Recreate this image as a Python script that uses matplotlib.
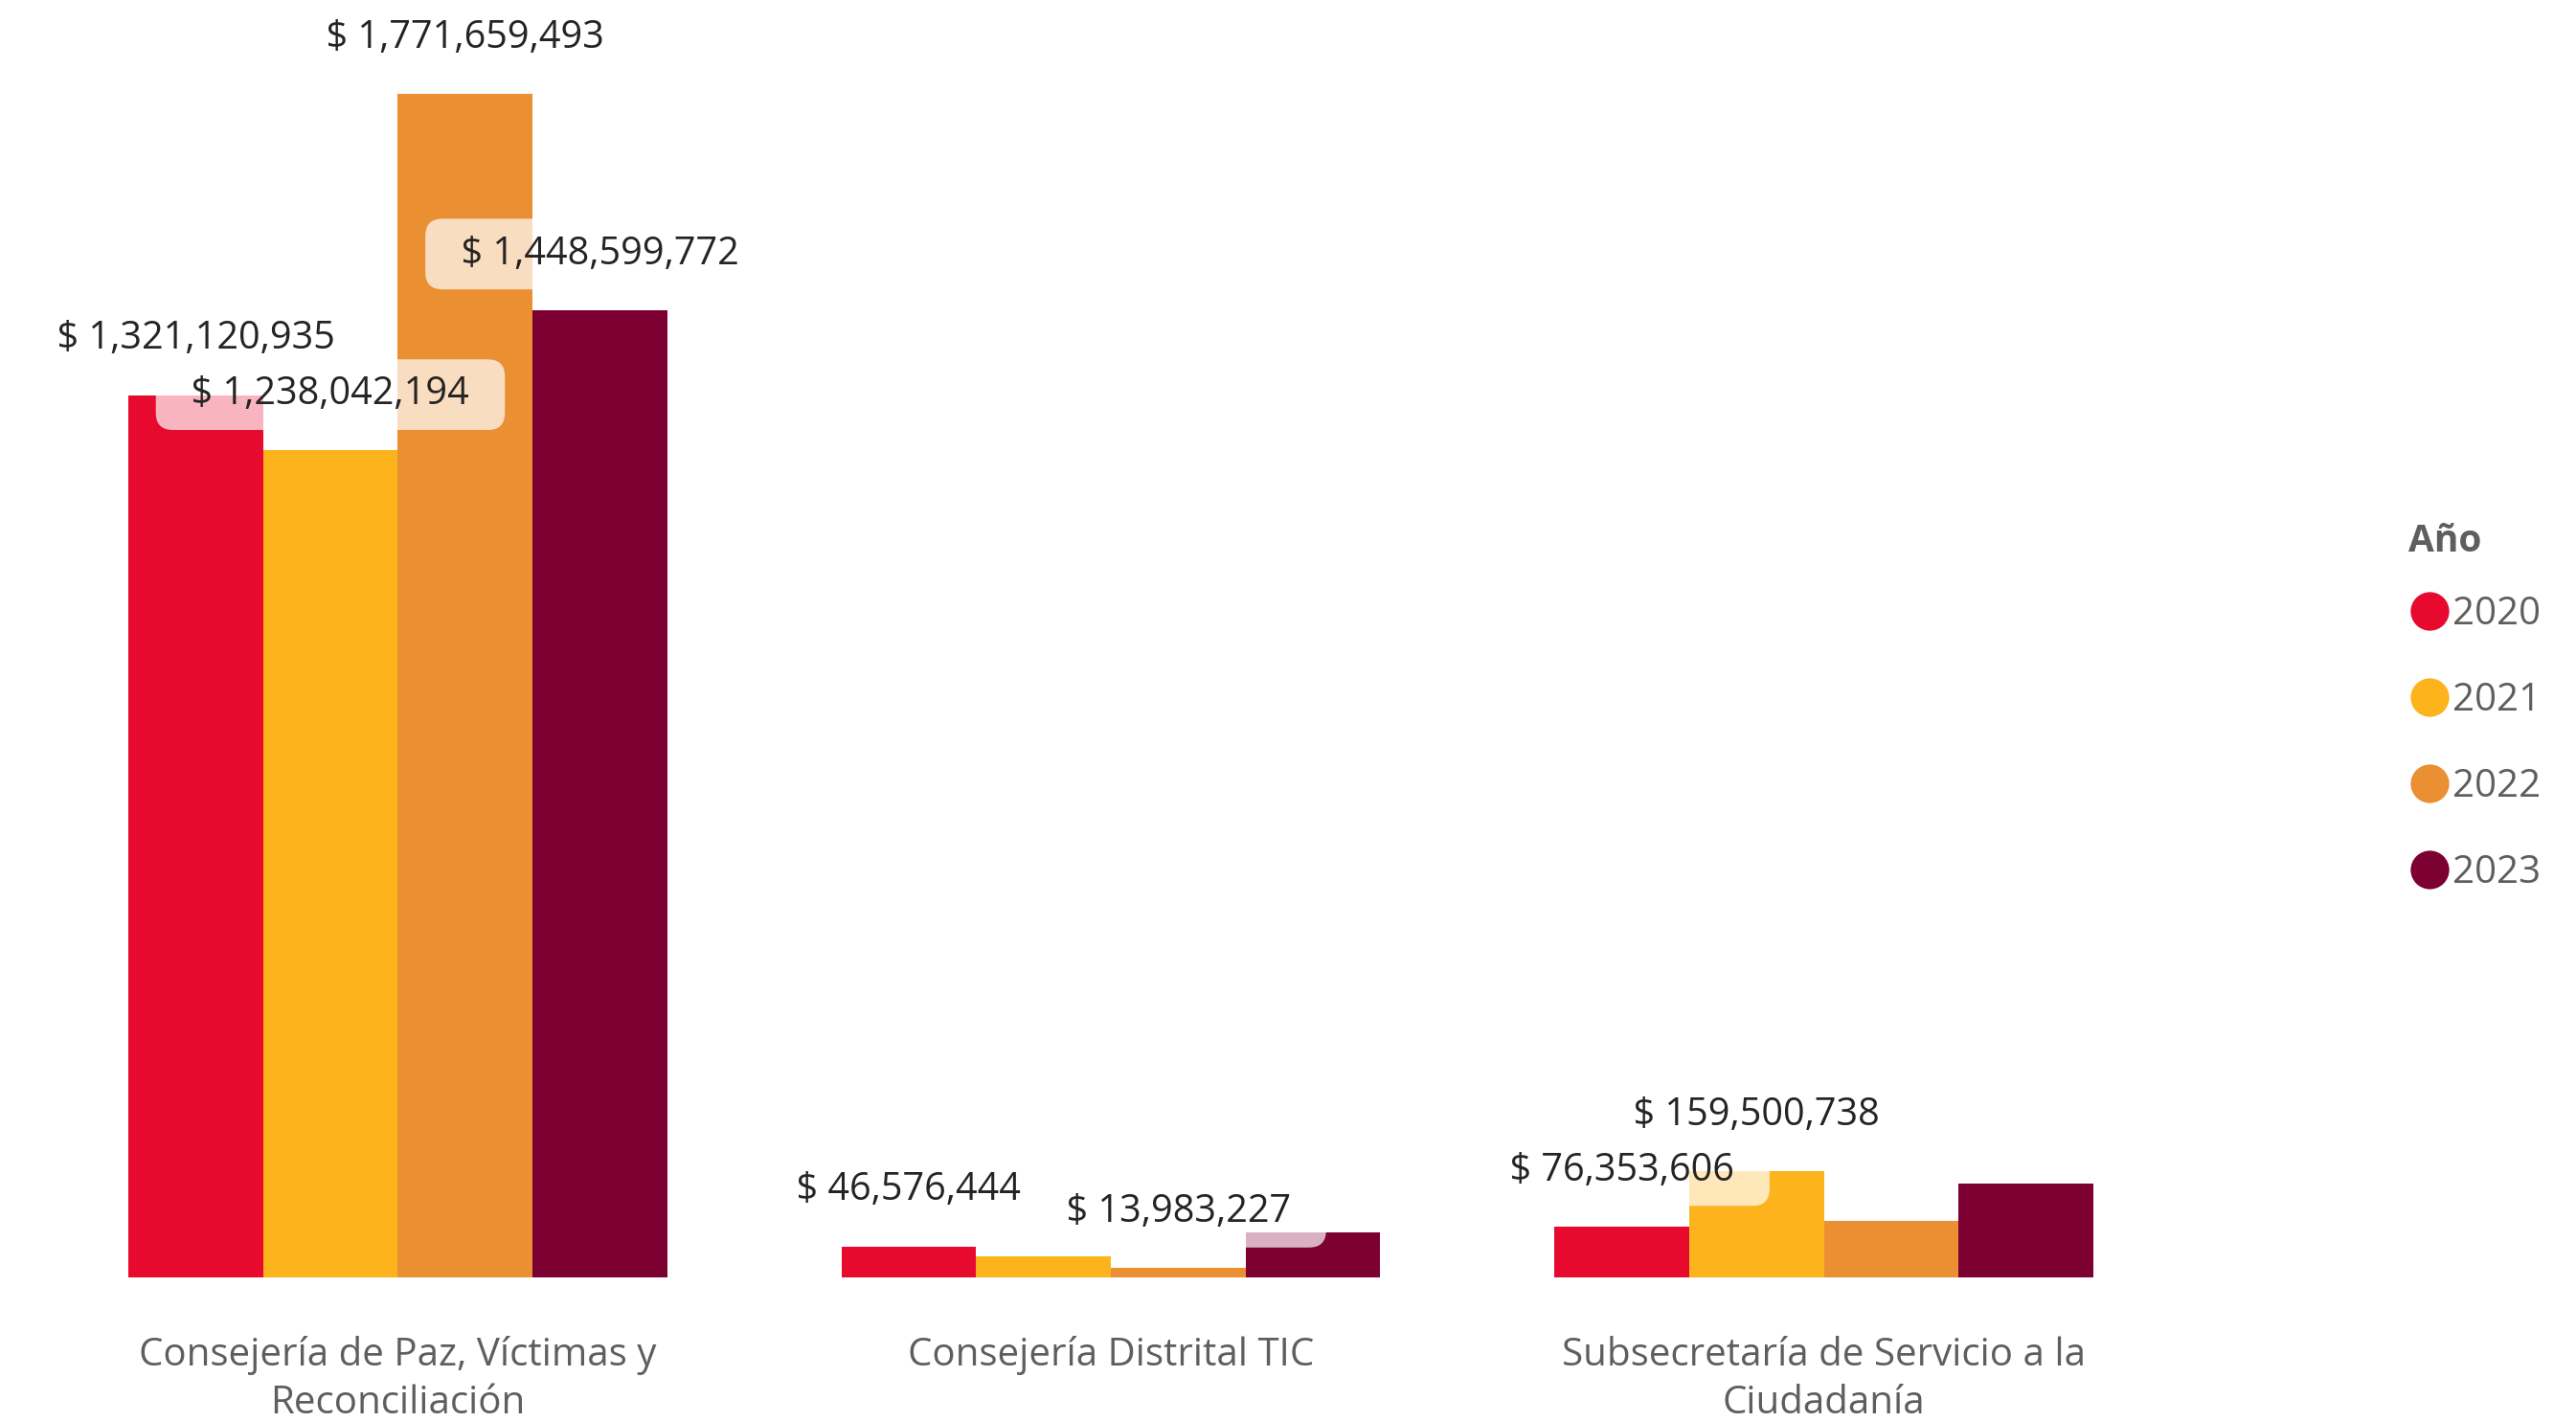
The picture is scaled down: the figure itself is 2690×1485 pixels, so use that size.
import matplotlib.pyplot as plt
import numpy as np
from matplotlib.lines import Line2D

plt.rcParams['font.family'] = ['Open Sans', 'DejaVu Sans']

categories = ["Consejería de Paz, Víctimas y\nReconciliación",
              "Consejería Distrital TIC",
              "Subsecretaría de Servicio a la\nCiudadanía"]
years = ["2020", "2021", "2022", "2023"]
v2020 = [1321120935, 46576444, 76353606]
v2021 = [1238042194, 31000000, 159500738]
v2022 = [1771659493, 13983227, 85000000]
v2023 = [1448599772, 68000000, 140000000]
# labels that stay visible in the original (others hidden for overlap)
show2020 = [True, True, True]
show2021 = [True, False, True]
show2022 = [True, True, False]
show2023 = [True, False, False]

colors = ["#E8092E", "#FDB31C", "#EB8F33", "#7D0032"]
series = [v2020, v2021, v2022, v2023]
shows = [show2020, show2021, show2022, show2023]

fig = plt.figure(figsize=(26.9, 14.85), dpi=100)
ax = fig.add_axes([43 / 2690, 151 / 1485, 2234 / 2690, 1334 / 1485])

x = np.arange(len(categories))
width = 0.189
for i, (vals, col) in enumerate(zip(series, colors)):
    xs = x + (i - 1.5) * width
    ax.bar(xs, vals, width, color=col, zorder=2)

# data labels on top, semi-transparent white rounded background
for i, (vals, show) in enumerate(zip(series, shows)):
    xs = x + (i - 1.5) * width
    for xi, v, s in zip(xs, vals, show):
        if not s:
            continue
        ax.annotate(f"  $ {v:,.0f}  ", (xi, v), xytext=(0, 42),
                    textcoords="offset points", ha="center", va="center",
                    fontsize=28.5, color="#252423", zorder=5,
                    bbox=dict(boxstyle="round,pad=0.42,rounding_size=0.45",
                              fc="white", ec="none", alpha=0.7))

ax.set_xlim(-0.5, 2.5)
ax.set_ylim(0, 1.9126e9)
ax.set_xticks(x)
ax.set_xticklabels(categories, fontsize=29, color="#605E5C", linespacing=1.32)
ax.tick_params(axis="x", length=0, pad=44)
ax.set_yticks([])
for sp in ax.spines.values():
    sp.set_visible(False)

# legend
fig.text(2515 / 2690, 1 - 566 / 1485, "Año", fontsize=28, fontweight="bold",
         color="#605E5C", ha="left", va="center")
handles = [Line2D([], [], marker="o", linestyle="none", markersize=29,
                  markerfacecolor=c, markeredgecolor="none") for c in colors]
leg = fig.legend(handles, years, loc="upper left",
                 bbox_to_anchor=(2498 / 2690, 1 - 601 / 1485), frameon=False,
                 fontsize=29, handlelength=0.95,
                 handletextpad=0.12, labelspacing=1.23, borderpad=0)
for t in leg.get_texts():
    t.set_color("#605E5C")

fig.savefig("out.png", dpi=100)
